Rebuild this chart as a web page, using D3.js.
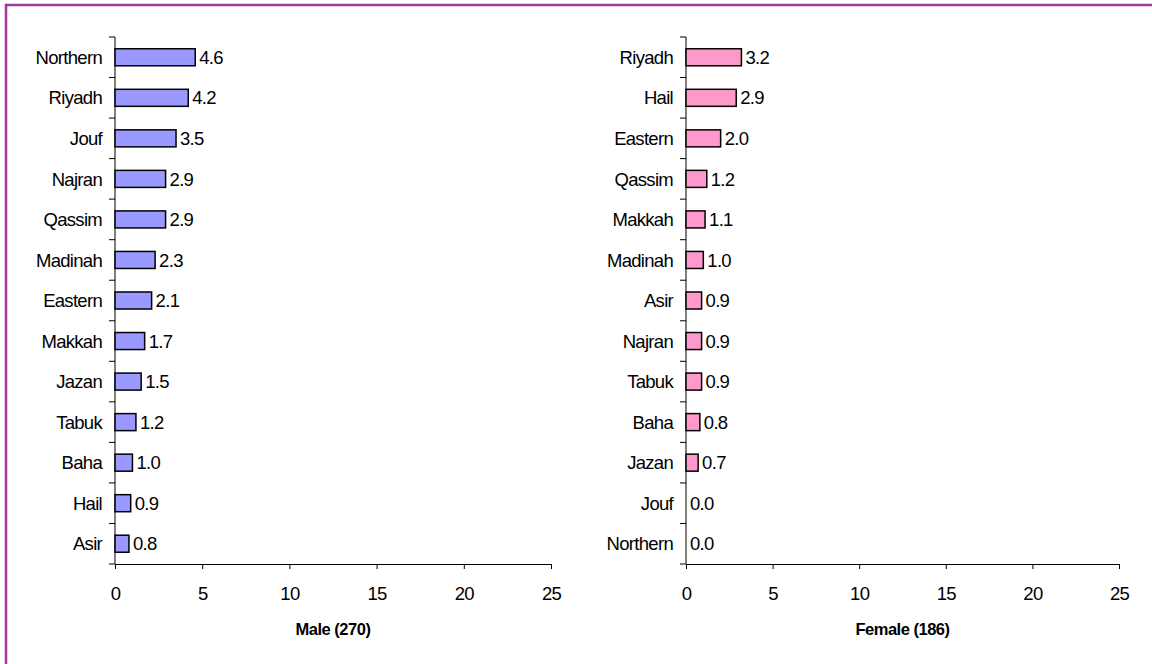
<!DOCTYPE html>
<html><head><meta charset="utf-8">
<script src="https://cdn.jsdelivr.net/npm/d3@7"></script>
<style>body{margin:0;background:#fff}svg{display:block;font-family:"Liberation Sans",Arial,sans-serif}</style>
</head><body><svg id="c" width="1152" height="664"></svg>
<script>
const maleRegions = ["Northern","Riyadh","Jouf","Najran","Qassim","Madinah","Eastern","Makkah","Jazan","Tabuk","Baha","Hail","Asir"];
const maleValues = [4.6,4.2,3.5,2.9,2.9,2.3,2.1,1.7,1.5,1.2,1.0,0.9,0.8];
const femaleRegions = ["Riyadh","Hail","Eastern","Qassim","Makkah","Madinah","Asir","Najran","Tabuk","Baha","Jazan","Jouf","Northern"];
const femaleValues = [3.2,2.9,2.0,1.2,1.1,1.0,0.9,0.9,0.9,0.8,0.7,0.0,0.0];
const xTicks = [0,5,10,15,20,25];
const titles = ["Male (270)","Female (186)"];

const svg = d3.select("#c");
svg.append("rect").attr("x",6).attr("y",5).attr("width",1160).attr("height",700)
  .attr("fill","none").attr("stroke","#a0379c").attr("stroke-width",2.5);

const FS = 18.5, LS = -0.7;
function panel(x0, x1, cats, vals, fill, title){
  const top = 37, bottom = 564;
  const x = d3.scaleLinear().domain([0,25]).range([x0,x1]);
  const y = d3.scaleBand().domain(cats).range([top,bottom]).paddingInner(0.58).paddingOuter(0.29);
  const g = svg.append("g");
  const xa = g.append("g").attr("transform",`translate(0,${bottom})`)
    .call(d3.axisBottom(x).tickValues(xTicks).tickSize(5).tickPadding(18).tickFormat(d3.format("d")));
  xa.select(".domain").attr("stroke","#000");
  xa.selectAll("line").attr("stroke","#000");
  xa.selectAll("text").attr("font-size",FS).attr("fill","#000").attr("letter-spacing",LS)
    .attr("font-family","Liberation Sans, Arial, sans-serif");
  g.append("line").attr("x1",x0).attr("x2",x0).attr("y1",top).attr("y2",bottom).attr("stroke","#000");
  const step = (bottom-top)/cats.length;
  d3.range(cats.length+1).forEach(i=>{
    g.append("line").attr("x1",x0-6).attr("x2",x0).attr("y1",top+i*step).attr("y2",top+i*step).attr("stroke","#000");
  });
  g.selectAll("text.cat").data(cats).join("text").attr("class","cat")
    .attr("x",x0-13).attr("y",d=>y(d)+y.bandwidth()/2).attr("dy","0.36em")
    .attr("text-anchor","end").attr("font-size",FS).attr("letter-spacing",LS).attr("fill","#000").text(d=>d);
  g.selectAll("rect.bar").data(vals).join("rect").attr("class","bar")
    .attr("x",x(0)).attr("y",(d,i)=>y(cats[i])).attr("width",d=>x(d)-x(0)).attr("height",y.bandwidth())
    .attr("fill",fill).attr("stroke","#000").attr("stroke-width",1.5);
  g.selectAll("text.val").data(vals).join("text").attr("class","val")
    .attr("x",d=>x(d)+4).attr("y",(d,i)=>y(cats[i])+y.bandwidth()/2).attr("dy","0.36em")
    .attr("font-size",FS).attr("letter-spacing",LS).attr("fill","#000").text(d=>d.toFixed(1));
  g.append("text").attr("x",(x0+x1)/2).attr("y",635).attr("text-anchor","middle")
    .attr("font-size",16.5).attr("letter-spacing",-0.5).attr("font-weight","bold").attr("fill","#000").text(title);
}
panel(115,551,maleRegions,maleValues,"#9999ff",titles[0]);
panel(686,1119,femaleRegions,femaleValues,"#ff99cc",titles[1]);
</script></body></html>
